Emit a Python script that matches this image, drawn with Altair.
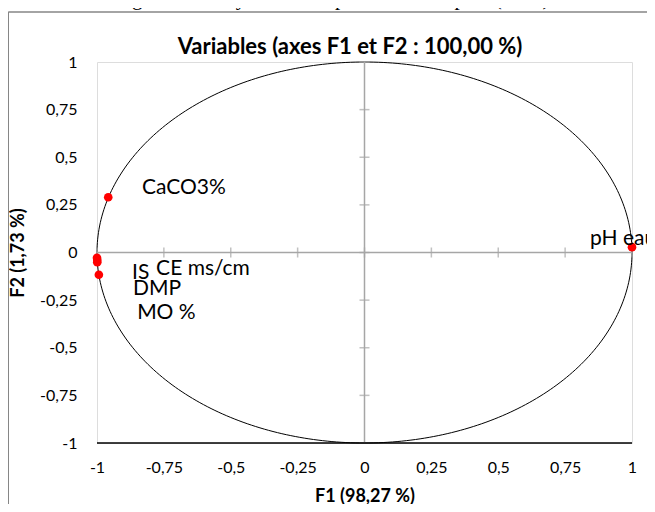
import altair as alt
import pandas as pd

# ---- data ----
variables = ["CaCO3%", "IS", "CE ms/cm", "DMP", "MO %", "pH eau"]
f1 = [-0.958, -1.000, -0.999, -0.999, -0.993, 1.000]
f2 = [0.290, -0.028, -0.040, -0.051, -0.117, 0.028]
label_f1 = [-0.832, -0.869, -0.779, -0.865, -0.850, 0.843]
label_f2 = [0.336, -0.105, -0.089, -0.189, -0.315, 0.070]
tick_values = [-1, -0.75, -0.5, -0.25, 0, 0.25, 0.5, 0.75, 1]

pts = pd.DataFrame({"F1": f1, "F2": f2, "var": variables})
labs = pd.DataFrame({"F1": label_f1, "F2": label_f2, "var": variables})
ticks = pd.DataFrame({"v": tick_values})

FONT = "Lato"
W, H = 535, 381

label_expr = "replace(toString(datum.value), '.', ',')"
xscale = alt.Scale(domain=[-1, 1], nice=False, zero=False)
yscale = alt.Scale(domain=[-1, 1], nice=False, zero=False)

xaxis = alt.Axis(values=tick_values, labelExpr=label_expr, domain=False, ticks=False, grid=False,
                 labelFlush=False, labelOverlap=False,
                 labelFont=FONT, labelFontSize=16, labelColor="#000", labelPadding=16,
                 title="F1 (98,27 %)", titleFont=FONT, titleFontSize=18, titleFontWeight="bold",
                 titleColor="#000", titlePadding=12)
yaxis = alt.Axis(values=tick_values, labelExpr=label_expr, domain=False, ticks=False, grid=False,
                 labelFlush=False, labelOverlap=False,
                 labelFont=FONT, labelFontSize=16, labelColor="#000", labelPadding=20,
                 title="F2 (1,73 %)", titleFont=FONT, titleFontSize=18, titleFontWeight="bold",
                 titleColor="#000", titlePadding=12)

# circle of correlations (unit circle)
circle = alt.Chart(alt.sequence(0, 361, 1, as_="deg")).transform_calculate(
    cx="cos(datum.deg*PI/180)", cy="sin(datum.deg*PI/180)"
).mark_line(color="#000", strokeWidth=1, clip=False).encode(
    x=alt.X("cx:Q", scale=xscale, axis=xaxis),
    y=alt.Y("cy:Q", scale=yscale, axis=yaxis),
    order="deg:Q",
)

zero_v = alt.Chart(pd.DataFrame({"z": [0]})).mark_rule(color="#a6a6a6", strokeWidth=1.5).encode(
    x=alt.X("z:Q", scale=xscale))
zero_h = alt.Chart(pd.DataFrame({"z": [0]})).mark_rule(color="#a6a6a6", strokeWidth=1.5).encode(
    y=alt.Y("z:Q", scale=yscale))

tick_h = alt.Chart(ticks).mark_tick(color="#a6a6a6", thickness=1.5, size=10, orient="vertical").encode(
    x=alt.X("v:Q", scale=xscale), y=alt.datum(0, scale=yscale))
tick_v = alt.Chart(ticks).mark_tick(color="#a6a6a6", thickness=1.5, size=10, orient="horizontal").encode(
    y=alt.Y("v:Q", scale=yscale), x=alt.datum(0, scale=xscale))

bottom = alt.Chart(pd.DataFrame({"z": [-1]})).mark_rule(color="#000", strokeWidth=1.5).encode(
    y=alt.Y("z:Q", scale=yscale))

points = alt.Chart(pts).mark_circle(color="#ff0000", opacity=1, size=75, clip=False).encode(
    x=alt.X("F1:Q", scale=xscale), y=alt.Y("F2:Q", scale=yscale))

texts = alt.Chart(labs).mark_text(align="left", baseline="middle", font=FONT, fontSize=21,
                                  color="#000", clip=False).encode(
    x=alt.X("F1:Q", scale=xscale), y=alt.Y("F2:Q", scale=yscale), text="var:N")

# outer chart frame (left and top edges), chart title, and the cut caption above the frame
frame_left = alt.Chart(pd.DataFrame({"a": [0]})).mark_rule(color="#868686", strokeWidth=1.5).encode(
    x=alt.value(-88.75), y=alt.value(-50), y2=alt.value(460))
frame_top = alt.Chart(pd.DataFrame({"a": [0]})).mark_rule(color="#868686", strokeWidth=1.5).encode(
    x=alt.value(-88.75), x2=alt.value(550), y=alt.value(-50))
title = alt.Chart(pd.DataFrame({"t": ["Variables (axes F1 et F2 : 100,00 %)"]})).mark_text(
    font=FONT, fontSize=22, fontWeight="bold", color="#000", align="center", baseline="middle").encode(
    x=alt.value(253), y=alt.value(-15), text="t:N")
caption = alt.Chart(pd.DataFrame({"t": ["Figure 3: Analyse en Composante Principale (ACP)"]})).mark_text(
    font="Liberation Serif", fontSize=21, color="#000", align="center", baseline="alphabetic").encode(
    x=alt.value(235), y=alt.value(-57), text="t:N")

chart = alt.layer(
    circle, zero_v, zero_h, tick_h, tick_v, bottom, points, texts,
    frame_left, frame_top, title, caption
).properties(
    width=W, height=H,
    autosize=alt.AutoSizeParams(type="none"),
    padding={"left": 89, "top": 54, "right": 15, "bottom": 61},
).configure_view(stroke="#868686", strokeWidth=1.5).configure(background="white")

chart.save("out.html", embed_options={"renderer": "svg", "actions": False})
